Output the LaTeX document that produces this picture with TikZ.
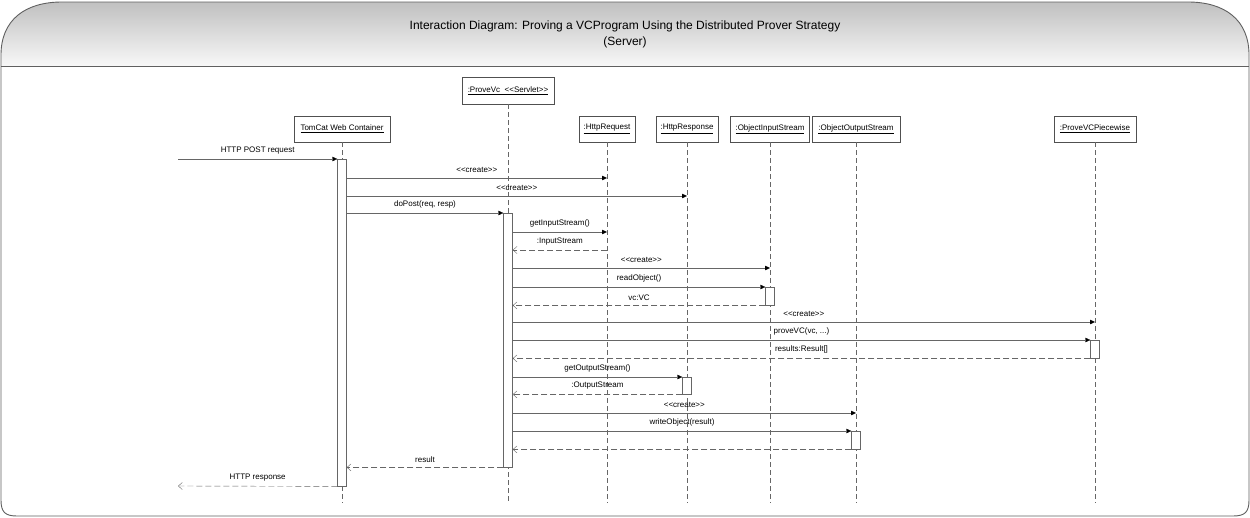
\documentclass[tikz,border=0pt]{standalone}
\usepackage{fontspec}
\setmainfont{Liberation Sans}
\usetikzlibrary{arrows.meta}
\definecolor{framegray}{HTML}{606060}
\definecolor{boxgray}{HTML}{505050}
\definecolor{linegray}{HTML}{666666}
\definecolor{hdrtop}{HTML}{C0C0C0}
\definecolor{hdrbot}{HTML}{F8F8F8}
\newcommand{\stereo}[1]{<{}<#1>{}>}

\begin{document}
\begin{tikzpicture}[x=1pt, y=-1pt,
  objbox/.style={draw=boxgray, fill=white, minimum height=26pt, inner xsep=3pt, font=\fontsize{8}{9}\selectfont},
  life/.style={draw=linegray, dash pattern=on 5pt off 3pt},
  act/.style={draw=linegray, fill=white, minimum width=9pt, anchor=north, inner sep=0pt},
  call/.style={draw=linegray, -{Triangle[length=5pt, width=4.5pt, black]}},
  reply/.style={draw=linegray, dash pattern=on 6pt off 3pt, -{Straight Barb[length=4pt, width=7pt]}},
  lbl/.style={above, font=\fontsize{8}{9}\selectfont, text=black, inner sep=1pt, yshift=4pt}
]
\useasboundingbox (0,0) rectangle (1250,517);

% frame with shaded heading
\shade[top color=hdrtop, bottom color=hdrbot] (1,66) -- (1,55) .. controls (1,20) and (25,2) .. (62,2)
  -- (1188,2) .. controls (1225,2) and (1249,20) .. (1249,55) -- (1249,66) -- cycle;
\draw[framegray, line width=0.9pt] (1,55) .. controls (1,20) and (25,2) .. (62,2)
  -- (1188,2) .. controls (1225,2) and (1249,20) .. (1249,55)
  -- (1249,500) .. controls (1249,512) and (1245,516) .. (1233,516)
  -- (17,516) .. controls (5,516) and (1,512) .. (1,500) -- cycle;
\draw[framegray, line width=0.9pt] (1,66) -- (1249,66);
\node[font=\fontsize{12}{16}\selectfont, align=center] (title) at (625,34)
  {Interaction Diagram: Proving a VCProgram Using the Distributed Prover Strategy\\(Server)};

% participants
\node[objbox, minimum width=96pt] (tomcat) at (342,129) {\underline{TomCat Web Container}};
\node[objbox, minimum width=92pt, minimum height=27pt] (servlet) at (508,90.5) {\underline{:ProveVc~~\stereo{Servlet}}};
\node[objbox, minimum width=56pt] (httpreq) at (607,129) {\underline{:HttpRequest}};
\node[objbox, minimum width=62pt] (httpresp) at (687,129) {\underline{:HttpResponse}};
\node[objbox, minimum width=79pt] (ois) at (770,129) {\underline{:ObjectInputStream}};
\node[objbox, minimum width=88pt] (oos) at (856,129) {\underline{:ObjectOutputStream}};
\node[objbox, minimum width=82pt] (pvp) at (1095,129) {\underline{:ProveVCPiecewise}};

% lifelines
\foreach \n in {tomcat, servlet, httpreq, httpresp, ois, oos, pvp}
  \draw[life] (\n.south) -- (\n.south |- 0,503);

% activations
\node[act, minimum height=327pt] (tcact) at (tomcat |- 0,159) {};
\node[act, minimum height=254pt] (svact) at (servlet |- 0,213) {};
\node[act, minimum height=18pt] (oisact) at (ois |- 0,287) {};
\node[act, minimum height=18pt] (pvpact) at (pvp |- 0,340) {};
\node[act, minimum height=17pt] (hract) at (httpresp |- 0,377) {};
\node[act, minimum height=18pt] (oosact) at (oos |- 0,431) {};

% messages
\coordinate (ext) at (178,159);
\coordinate (extback) at (178,486);
\draw[call] (ext) -- node[lbl] {HTTP POST request} (tcact.north west);
\draw[call] (tcact.east |- 0,178) -- node[lbl] {\stereo{create}} (httpreq |- 0,178);
\draw[call] (tcact.east |- 0,196) -- node[lbl] {\stereo{create}} (httpresp |- 0,196);
\draw[call] (tcact.east |- 0,213) -- node[lbl] {doPost(req, resp)} (svact.north west);
\draw[call] (svact.east |- 0,232) -- node[lbl] {getInputStream()} (httpreq |- 0,232);
\draw[reply] (httpreq |- 0,250) -- node[lbl] {:InputStream} (svact.east |- 0,250);
\draw[call] (svact.east |- 0,268) -- node[lbl] {\stereo{create}} (ois |- 0,268);
\draw[call] (svact.east |- 0,287) -- node[lbl] {readObject()} (oisact.north west);
\draw[reply] (oisact.south west) -- node[lbl] {vc:VC} (svact.east |- oisact.south);
\draw[call] (svact.east |- 0,322) -- node[lbl] {\stereo{create}} (pvp |- 0,322);
\draw[call] (svact.east |- 0,340) -- node[lbl] {proveVC(vc, ...)} (pvpact.north west);
\draw[reply] (pvpact.south west) -- node[lbl] {results:Result[]} (svact.east |- pvpact.south);
\draw[call] (svact.east |- 0,377) -- node[lbl] {getOutputStream()} (hract.north west);
\draw[reply] (hract.south west) -- node[lbl] {:OutputStream} (svact.east |- hract.south);
\draw[call] (svact.east |- 0,413) -- node[lbl] {\stereo{create}} (oos |- 0,413);
\draw[call] (svact.east |- 0,431) -- node[lbl] {writeObject(result)} (oosact.north west);
\draw[reply] (oosact.south west) -- (svact.east |- oosact.south);
\draw[reply] (svact.south west) -- node[lbl] {result} (tcact.east |- svact.south);
\draw[reply] (tcact.south west) -- node[lbl] {HTTP response} (extback);

\end{tikzpicture}
\end{document}
